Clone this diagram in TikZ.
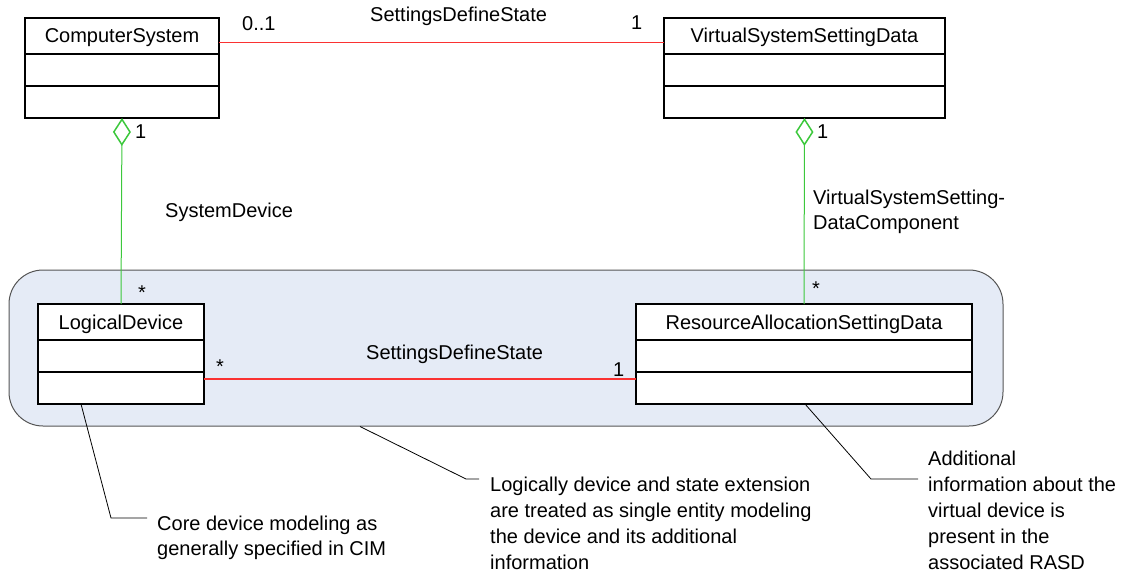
\documentclass[tikz,border=0pt]{standalone}
\usepackage{fontspec}
\setmainfont{Liberation Sans}
\usetikzlibrary{positioning,arrows.meta}

\definecolor{assocred}{RGB}{250,50,50}
\definecolor{aggrgreen}{RGB}{60,200,60}
\definecolor{groupblue}{RGB}{229,235,246}
\definecolor{groupgray}{RGB}{85,85,85}

\tikzset{
  classhead/.style={draw, fill=white, line width=1.4pt, outer sep=0pt, inner sep=0pt,
    minimum height=36pt, text height=14pt, text depth=0pt},
  classpart/.style={draw, fill=white, line width=1.4pt, outer sep=0pt, inner sep=0pt,
    minimum height=32pt},
  assoc/.style={draw=assocred, line width=1.3pt},
  aggr/.style={draw=aggrgreen, line width=1pt,
    arrows={Diamond[open,length=28pt,width=18pt,line width=1.5pt]-}},
  notelink/.style={draw=black, line width=0.8pt},
  notetext/.style={anchor=north west, align=left, inner sep=0pt},
  lbl/.style={anchor=base west, inner sep=0pt}
}

\begin{document}
\begin{tikzpicture}[x=1pt, y=-1pt, font=\fontsize{20}{24}\selectfont]
\useasboundingbox (0,0) rectangle (1122,575);

% group of device and its settings
\node[draw=groupgray, fill=groupblue, line width=1pt, rounded corners=34pt,
  minimum width=994pt, minimum height=156pt] (grp) at (506,348) {};

% classes
\node[classhead, minimum width=194pt] (cs) at (122,36) {ComputerSystem};
\node[classpart, minimum width=194pt, below=0pt of cs] (cs1) {};
\node[classpart, minimum width=194pt, below=0pt of cs1] (cs2) {};

\node[classhead, minimum width=281pt] (vssd) at (804.5,36) {VirtualSystemSettingData};
\node[classpart, minimum width=281pt, below=0pt of vssd] (vssd1) {};
\node[classpart, minimum width=281pt, below=0pt of vssd1] (vssd2) {};

\node[classhead, minimum width=166pt] (ld) at (121,322) {LogicalDevice};
\node[classpart, minimum width=166pt, below=0pt of ld] (ld1) {};
\node[classpart, minimum width=166pt, below=0pt of ld1] (ld2) {};

\node[classhead, minimum width=336pt] (rasd) at (804,322) {ResourceAllocationSettingData};
\node[classpart, minimum width=336pt, below=0pt of rasd] (rasd1) {};
\node[classpart, minimum width=336pt, below=0pt of rasd1] (rasd2) {};

% associations
\draw[assoc] ([yshift=-6.7pt]cs.east) -- ([yshift=-6.7pt]vssd.west);
\node[lbl] (csmult) at (242,31) {0..1};
\node[lbl] (vssdmult) at (631,30) {1};
\node[lbl] (topname) at (370,22) {SettingsDefineState};

\draw[assoc] ([yshift=9pt]ld2.east) -- ([yshift=9pt]rasd2.west);
\node[lbl] (ldmult) at (216,373) {*};
\node[lbl] (rasdmult) at (613,376) {1};
\node[lbl] (lowname) at (366,359) {SettingsDefineState};

% aggregations
\draw[aggr] (cs2.south) -- (ld.north);
\node[lbl] (csaggr) at (135,139) {1};
\node[lbl] (ldaggr) at (138,299) {*};
\node[lbl] (sysdev) at (165,217) {SystemDevice};

\draw[aggr] (vssd2.south) -- (rasd.north);
\node[lbl] (vssdaggr) at (817,139) {1};
\node[lbl] (rasdaggr) at (812,295) {*};
\node[notetext, font=\fontsize{20}{25}\selectfont] (vssdcomp) at (813,190)
  {VirtualSystemSetting-\\DataComponent};

% notes
\coordinate (coreknee) at (111,518);
\coordinate (coreend) at (147,518);
\draw[notelink] ([xshift=-40pt]ld2.south) -- (coreknee) -- (coreend);
\node[notetext, font=\fontsize{20}{25}\selectfont] (corenote) at (157,515.5)
  {Core device modeling as\\generally specified in CIM};

\coordinate (grpknee) at (466,479);
\coordinate (grpend) at (479,479);
\draw[notelink] ([xshift=-146pt]grp.south) -- (grpknee) -- (grpend);
\node[notetext, font=\fontsize{20}{26}\selectfont] (grpnote) at (490,476.5)
  {Logically device and state extension\\are treated as single entity modeling\\the device and its additional\\information};

\coordinate (rasdknee) at (871,479);
\coordinate (rasdend) at (918,479);
\draw[notelink] ([xshift=1pt]rasd2.south) -- (rasdknee) -- (rasdend);
\node[notetext, font=\fontsize{20}{26}\selectfont] (rasdnote) at (928,450.5)
  {Additional\\information about the\\virtual device is\\present in the\\associated RASD};
\end{tikzpicture}
\end{document}
